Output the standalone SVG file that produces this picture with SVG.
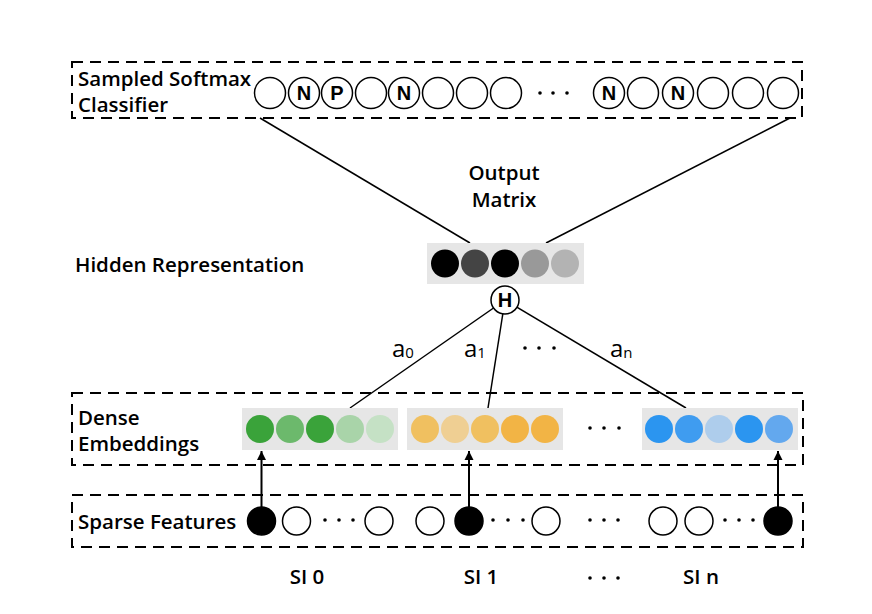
<svg xmlns="http://www.w3.org/2000/svg" width="872" height="614" viewBox="0 0 872 614">
<defs>
<marker id="arr" viewBox="0 0 10 10" refX="10" refY="5" markerWidth="9" markerHeight="11" markerUnits="userSpaceOnUse" orient="auto">
<path d="M0,0 L10,5 L0,10 z" fill="#000"/>
</marker>
<style>
.box{fill:none;stroke:#000;stroke-width:2;stroke-dasharray:11 7}
.lbl{font-family:"Open Sans","Liberation Sans",sans-serif;font-size:20.5px;font-weight:600;fill:#000}
.ctr{text-anchor:middle}
.oc{fill:#fff;stroke:#000;stroke-width:1.5}
.bc{fill:#000;stroke:#000;stroke-width:1.5}
.letter{font-family:"Liberation Sans",Arial,sans-serif;font-size:20px;font-weight:bold;text-anchor:middle;fill:#000}
.dot{fill:#000}
.gbox{fill:#e6e6e6}
.ln{stroke:#000;stroke-width:1.5;fill:none}
.ar{stroke:#000;stroke-width:2;fill:none}
.aw{font-family:"Open Sans","Liberation Sans",sans-serif;font-size:24px;fill:#000}
</style>
</defs>
<rect width="872" height="614" fill="#fff"/>

<g id="classifier">
<rect class="box" x="72" y="62" width="730" height="56"/>
<text class="lbl" x="78" y="86">Sampled Softmax</text>
<text class="lbl" x="78" y="112">Classifier</text>
<circle class="oc" cx="270" cy="93" r="15.5"/>
<circle class="oc" cx="304" cy="93" r="15.5"/><text class="letter" x="304" y="100">N</text>
<circle class="oc" cx="337" cy="93" r="15.5"/><text class="letter" x="337" y="100">P</text>
<circle class="oc" cx="371" cy="93" r="15.5"/>
<circle class="oc" cx="404" cy="93" r="15.5"/><text class="letter" x="404" y="100">N</text>
<circle class="oc" cx="438" cy="93" r="15.5"/>
<circle class="oc" cx="472" cy="93" r="15.5"/>
<circle class="oc" cx="506" cy="93" r="15.5"/>
<circle class="dot" cx="540" cy="93" r="1.8"/>
<circle class="dot" cx="553" cy="93" r="1.8"/>
<circle class="dot" cx="567" cy="93" r="1.8"/>
<circle class="oc" cx="609" cy="93" r="15.5"/><text class="letter" x="609" y="100">N</text>
<circle class="oc" cx="643" cy="93" r="15.5"/>
<circle class="oc" cx="678" cy="93" r="15.5"/><text class="letter" x="678" y="100">N</text>
<circle class="oc" cx="713" cy="93" r="15.5"/>
<circle class="oc" cx="748" cy="93" r="15.5"/>
<circle class="oc" cx="783" cy="93" r="15.5"/>
</g>

<g id="connectors">
<line class="ln" x1="260" y1="118" x2="470" y2="243"/>
<line class="ln" x1="790" y1="118" x2="546" y2="243"/>
<line class="ln" x1="505" y1="300" x2="350" y2="408"/>
<line class="ln" x1="505" y1="300" x2="488" y2="408"/>
<line class="ln" x1="505" y1="300" x2="686" y2="408"/>
<line class="ar" x1="261.5" y1="507" x2="261.5" y2="451" marker-end="url(#arr)"/>
<line class="ar" x1="469" y1="507" x2="469" y2="451" marker-end="url(#arr)"/>
<line class="ar" x1="778" y1="507" x2="778" y2="451" marker-end="url(#arr)"/>
</g>

<g id="output-matrix-label">
<text class="lbl ctr" x="504" y="180">Output</text>
<text class="lbl ctr" x="504" y="207">Matrix</text>
</g>

<g id="hidden">
<text class="lbl" x="75" y="272">Hidden Representation</text>
<rect class="gbox" x="427" y="243" width="157" height="41"/>
<circle cx="445" cy="263.5" r="14" fill="#000"/>
<circle cx="475" cy="263.5" r="14" fill="#444"/>
<circle cx="505" cy="263.5" r="14" fill="#000"/>
<circle cx="535" cy="263.5" r="14" fill="#999"/>
<circle cx="565" cy="263.5" r="14" fill="#b3b3b3"/>
</g>

<g id="H">
<circle class="oc" cx="505" cy="300" r="14"/>
<text class="letter" x="505" y="307">H</text>
</g>

<g id="weights">
<text class="aw" x="392" y="357">a<tspan font-size="15" dy="1">0</tspan></text>
<text class="aw" x="464" y="357">a<tspan font-size="15" dy="1">1</tspan></text>
<circle class="dot" cx="525" cy="348" r="1.8"/>
<circle class="dot" cx="539" cy="348" r="1.8"/>
<circle class="dot" cx="554" cy="348" r="1.8"/>
<text class="aw" x="610" y="357">a<tspan font-size="15" dy="1">n</tspan></text>
</g>

<g id="dense">
<rect class="box" x="72" y="393" width="731" height="72"/>
<text class="lbl" x="78" y="425">Dense</text>
<text class="lbl" x="78" y="451">Embeddings</text>
</g>

<g id="emb0">
<rect class="gbox" x="242" y="408" width="156" height="42"/>
<circle cx="260" cy="429" r="14" fill="#3aa33a"/>
<circle cx="290" cy="429" r="14" fill="#6cb96c"/>
<circle cx="320" cy="429" r="14" fill="#3aa33a"/>
<circle cx="350" cy="429" r="14" fill="#a9d4a9"/>
<circle cx="380" cy="429" r="14" fill="#c5e1c5"/>
</g>

<g id="emb1">
<rect class="gbox" x="407" y="408" width="156" height="42"/>
<circle cx="425" cy="429" r="14" fill="#f0c060"/>
<circle cx="455" cy="429" r="14" fill="#efcf93"/>
<circle cx="485" cy="429" r="14" fill="#f0c060"/>
<circle cx="515" cy="429" r="14" fill="#f2b445"/>
<circle cx="545" cy="429" r="14" fill="#f2b445"/>
</g>

<g id="emb-dots">
<circle class="dot" cx="590" cy="428" r="1.8"/>
<circle class="dot" cx="604" cy="428" r="1.8"/>
<circle class="dot" cx="619" cy="428" r="1.8"/>
</g>

<g id="embn">
<rect class="gbox" x="642" y="408" width="156" height="42"/>
<circle cx="659" cy="429" r="14" fill="#2b95f0"/>
<circle cx="689" cy="429" r="14" fill="#3f9cf0"/>
<circle cx="719" cy="429" r="14" fill="#aecdec"/>
<circle cx="749" cy="429" r="14" fill="#2b95f0"/>
<circle cx="779" cy="429" r="14" fill="#63a8ee"/>
</g>

<g id="sparse">
<rect class="box" x="72" y="495" width="731" height="52"/>
<text class="lbl" x="78" y="529">Sparse Features</text>
<circle class="bc" cx="261.5" cy="521" r="14"/>
<circle class="oc" cx="296.5" cy="521" r="14"/>
<circle class="dot" cx="325" cy="520" r="1.8"/>
<circle class="dot" cx="339" cy="520" r="1.8"/>
<circle class="dot" cx="353" cy="520" r="1.8"/>
<circle class="oc" cx="379" cy="521" r="14"/>
<circle class="oc" cx="430" cy="521" r="14"/>
<circle class="bc" cx="469" cy="521" r="14"/>
<circle class="dot" cx="493" cy="520" r="1.8"/>
<circle class="dot" cx="508" cy="520" r="1.8"/>
<circle class="dot" cx="523" cy="520" r="1.8"/>
<circle class="oc" cx="546" cy="521" r="14"/>
<circle class="dot" cx="590" cy="520" r="1.8"/>
<circle class="dot" cx="604" cy="520" r="1.8"/>
<circle class="dot" cx="618" cy="520" r="1.8"/>
<circle class="oc" cx="663" cy="521" r="14"/>
<circle class="oc" cx="699" cy="521" r="14"/>
<circle class="dot" cx="725" cy="520" r="1.8"/>
<circle class="dot" cx="739" cy="520" r="1.8"/>
<circle class="dot" cx="753" cy="520" r="1.8"/>
<circle class="bc" cx="778" cy="521" r="14"/>
</g>

<g id="si-labels">
<text class="lbl ctr" x="307" y="584">SI 0</text>
<text class="lbl ctr" x="481" y="584">SI 1</text>
<circle class="dot" cx="590" cy="578" r="1.8"/>
<circle class="dot" cx="604" cy="578" r="1.8"/>
<circle class="dot" cx="618" cy="578" r="1.8"/>
<text class="lbl ctr" x="701" y="584">SI n</text>
</g>
</svg>
